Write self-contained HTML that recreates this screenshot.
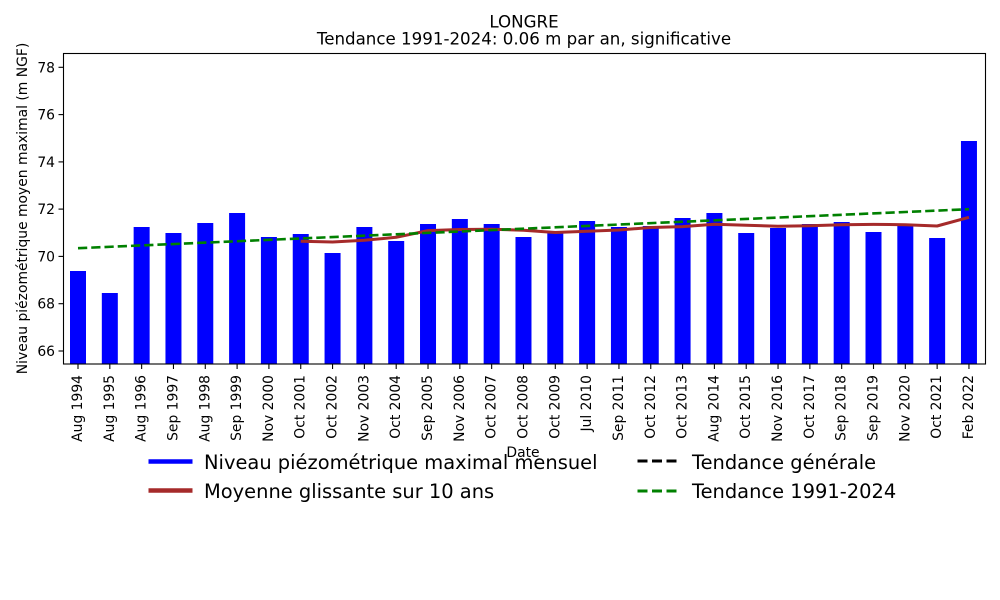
<!DOCTYPE html>
<html>
<head>
<meta charset="utf-8">
<style>
html,body{margin:0;padding:0;background:#fff;}
svg{display:block;}
text{font-family:"DejaVu Sans","Liberation Sans",sans-serif;fill:#000;}
</style>
</head>
<body>
<svg width="1000" height="600" viewBox="0 0 1000 600" xmlns="http://www.w3.org/2000/svg">
<rect x="0" y="0" width="1000" height="600" fill="#fff"/>

<!-- Title -->
<text x="524" y="27.5" font-size="16.67" text-anchor="middle">LONGRE</text>
<text x="524" y="44.5" font-size="16.67" text-anchor="middle">Tendance 1991-2024: 0.06 m par an, significative</text>

<!-- Bars -->
<g fill="#0000ff">
<rect x="70" y="271" width="16" height="93"/>
<rect x="101.82" y="293" width="16" height="71"/>
<rect x="133.64" y="227" width="16" height="137"/>
<rect x="165.46" y="233" width="16" height="131"/>
<rect x="197.28" y="223" width="16" height="141"/>
<rect x="229.1" y="213" width="16" height="151"/>
<rect x="260.92" y="237" width="16" height="127"/>
<rect x="292.74" y="234" width="16" height="130"/>
<rect x="324.56" y="253" width="16" height="111"/>
<rect x="356.38" y="227" width="16" height="137"/>
<rect x="388.2" y="241" width="16" height="123"/>
<rect x="420.02" y="224" width="16" height="140"/>
<rect x="451.84" y="219" width="16" height="145"/>
<rect x="483.66" y="224" width="16" height="140"/>
<rect x="515.48" y="237" width="16" height="127"/>
<rect x="547.3" y="233" width="16" height="131"/>
<rect x="579.12" y="221" width="16" height="143"/>
<rect x="610.94" y="227" width="16" height="137"/>
<rect x="642.76" y="226" width="16" height="138"/>
<rect x="674.58" y="218" width="16" height="146"/>
<rect x="706.4" y="213" width="16" height="151"/>
<rect x="738.22" y="233" width="16" height="131"/>
<rect x="770.04" y="228" width="16" height="136"/>
<rect x="801.86" y="224" width="16" height="140"/>
<rect x="833.68" y="222" width="16" height="142"/>
<rect x="865.5" y="232" width="16" height="132"/>
<rect x="897.32" y="225" width="16" height="139"/>
<rect x="929.14" y="238" width="16" height="126"/>
<rect x="960.96" y="141" width="16" height="223"/>
</g>

<!-- Moving average line -->
<polyline fill="none" stroke="#a52a2a" stroke-width="3" stroke-linejoin="round" stroke-linecap="butt"
points="300.7,241.3 332.6,242 364.4,240.3 396.2,237.3 428,230.6 459.8,229.5 491.7,229.2 523.5,230.3 555.3,232.5 587.1,231.3 618.9,230 650.8,227.5 682.6,226.6 714.4,224.3 746.2,225.3 778,226.2 809.9,225.8 841.7,224.7 873.5,224.4 905.3,224.7 937.1,226 969,217.3"/>

<!-- Trend line -->
<line x1="78" y1="248.2" x2="969" y2="209.2" stroke="#008000" stroke-width="2.6" stroke-dasharray="9.25,4"/>

<!-- Axes frame -->
<rect x="63.5" y="53.5" width="922" height="310.5" fill="none" stroke="#000" stroke-width="1.1"/>

<!-- Y ticks -->
<g stroke="#000" stroke-width="1.1">
<line x1="58.5" y1="351" x2="63.5" y2="351"/>
<line x1="58.5" y1="303.7" x2="63.5" y2="303.7"/>
<line x1="58.5" y1="256.4" x2="63.5" y2="256.4"/>
<line x1="58.5" y1="209.1" x2="63.5" y2="209.1"/>
<line x1="58.5" y1="161.9" x2="63.5" y2="161.9"/>
<line x1="58.5" y1="114.6" x2="63.5" y2="114.6"/>
<line x1="58.5" y1="67.3" x2="63.5" y2="67.3"/>
</g>
<g font-size="13.89" text-anchor="end">
<text x="55" y="356">66</text>
<text x="55" y="308.7">68</text>
<text x="55" y="261.4">70</text>
<text x="55" y="214.1">72</text>
<text x="55" y="166.9">74</text>
<text x="55" y="119.6">76</text>
<text x="55" y="72.3">78</text>
</g>

<!-- Y label -->
<text transform="translate(27,208.5) rotate(-90)" font-size="13.89" text-anchor="middle">Niveau piézométrique moyen maximal (m NGF)</text>

<!-- X ticks -->
<g stroke="#000" stroke-width="1.1">
<line x1="78" y1="364" x2="78" y2="369"/>
<line x1="109.82" y1="364" x2="109.82" y2="369"/>
<line x1="141.64" y1="364" x2="141.64" y2="369"/>
<line x1="173.46" y1="364" x2="173.46" y2="369"/>
<line x1="205.28" y1="364" x2="205.28" y2="369"/>
<line x1="237.1" y1="364" x2="237.1" y2="369"/>
<line x1="268.92" y1="364" x2="268.92" y2="369"/>
<line x1="300.74" y1="364" x2="300.74" y2="369"/>
<line x1="332.56" y1="364" x2="332.56" y2="369"/>
<line x1="364.38" y1="364" x2="364.38" y2="369"/>
<line x1="396.2" y1="364" x2="396.2" y2="369"/>
<line x1="428.02" y1="364" x2="428.02" y2="369"/>
<line x1="459.84" y1="364" x2="459.84" y2="369"/>
<line x1="491.66" y1="364" x2="491.66" y2="369"/>
<line x1="523.48" y1="364" x2="523.48" y2="369"/>
<line x1="555.3" y1="364" x2="555.3" y2="369"/>
<line x1="587.12" y1="364" x2="587.12" y2="369"/>
<line x1="618.94" y1="364" x2="618.94" y2="369"/>
<line x1="650.76" y1="364" x2="650.76" y2="369"/>
<line x1="682.58" y1="364" x2="682.58" y2="369"/>
<line x1="714.4" y1="364" x2="714.4" y2="369"/>
<line x1="746.22" y1="364" x2="746.22" y2="369"/>
<line x1="778.04" y1="364" x2="778.04" y2="369"/>
<line x1="809.86" y1="364" x2="809.86" y2="369"/>
<line x1="841.68" y1="364" x2="841.68" y2="369"/>
<line x1="873.5" y1="364" x2="873.5" y2="369"/>
<line x1="905.32" y1="364" x2="905.32" y2="369"/>
<line x1="937.14" y1="364" x2="937.14" y2="369"/>
<line x1="968.96" y1="364" x2="968.96" y2="369"/>
</g>
<g font-size="13.89" text-anchor="end">
<text transform="translate(82,375) rotate(-90)">Aug 1994</text>
<text transform="translate(113.82,375) rotate(-90)">Aug 1995</text>
<text transform="translate(145.64,375) rotate(-90)">Aug 1996</text>
<text transform="translate(177.46,375) rotate(-90)">Sep 1997</text>
<text transform="translate(209.28,375) rotate(-90)">Aug 1998</text>
<text transform="translate(241.1,375) rotate(-90)">Sep 1999</text>
<text transform="translate(272.92,375) rotate(-90)">Nov 2000</text>
<text transform="translate(304.74,375) rotate(-90)">Oct 2001</text>
<text transform="translate(336.56,375) rotate(-90)">Oct 2002</text>
<text transform="translate(368.38,375) rotate(-90)">Nov 2003</text>
<text transform="translate(400.2,375) rotate(-90)">Oct 2004</text>
<text transform="translate(432.02,375) rotate(-90)">Sep 2005</text>
<text transform="translate(463.84,375) rotate(-90)">Nov 2006</text>
<text transform="translate(495.66,375) rotate(-90)">Oct 2007</text>
<text transform="translate(527.48,375) rotate(-90)">Oct 2008</text>
<text transform="translate(559.3,375) rotate(-90)">Oct 2009</text>
<text transform="translate(591.12,375) rotate(-90)">Jul 2010</text>
<text transform="translate(622.94,375) rotate(-90)">Sep 2011</text>
<text transform="translate(654.76,375) rotate(-90)">Oct 2012</text>
<text transform="translate(686.58,375) rotate(-90)">Oct 2013</text>
<text transform="translate(718.4,375) rotate(-90)">Aug 2014</text>
<text transform="translate(750.22,375) rotate(-90)">Oct 2015</text>
<text transform="translate(782.04,375) rotate(-90)">Nov 2016</text>
<text transform="translate(813.86,375) rotate(-90)">Oct 2017</text>
<text transform="translate(845.68,375) rotate(-90)">Sep 2018</text>
<text transform="translate(877.5,375) rotate(-90)">Sep 2019</text>
<text transform="translate(909.32,375) rotate(-90)">Nov 2020</text>
<text transform="translate(941.14,375) rotate(-90)">Oct 2021</text>
<text transform="translate(972.96,375) rotate(-90)">Feb 2022</text>
</g>

<!-- X label -->
<text x="523" y="457" font-size="13.89" text-anchor="middle">Date</text>

<!-- Legend -->
<line x1="148.5" y1="461.5" x2="192.5" y2="461.5" stroke="#0000ff" stroke-width="4.5"/>
<line x1="148.5" y1="490.5" x2="192.5" y2="490.5" stroke="#a52a2a" stroke-width="4.5"/>
<text x="204" y="469" font-size="19.44">Niveau piézométrique maximal mensuel</text>
<text x="204" y="498" font-size="19.44">Moyenne glissante sur 10 ans</text>

<line x1="637.5" y1="461" x2="677" y2="461" stroke="#000" stroke-width="3" stroke-dasharray="10,4.5"/>
<line x1="637.5" y1="491" x2="677" y2="491" stroke="#008000" stroke-width="3" stroke-dasharray="10,4.5"/>
<text x="692" y="469" font-size="19.44">Tendance générale</text>
<text x="692" y="498" font-size="19.44">Tendance 1991-2024</text>
</svg>
</body>
</html>
